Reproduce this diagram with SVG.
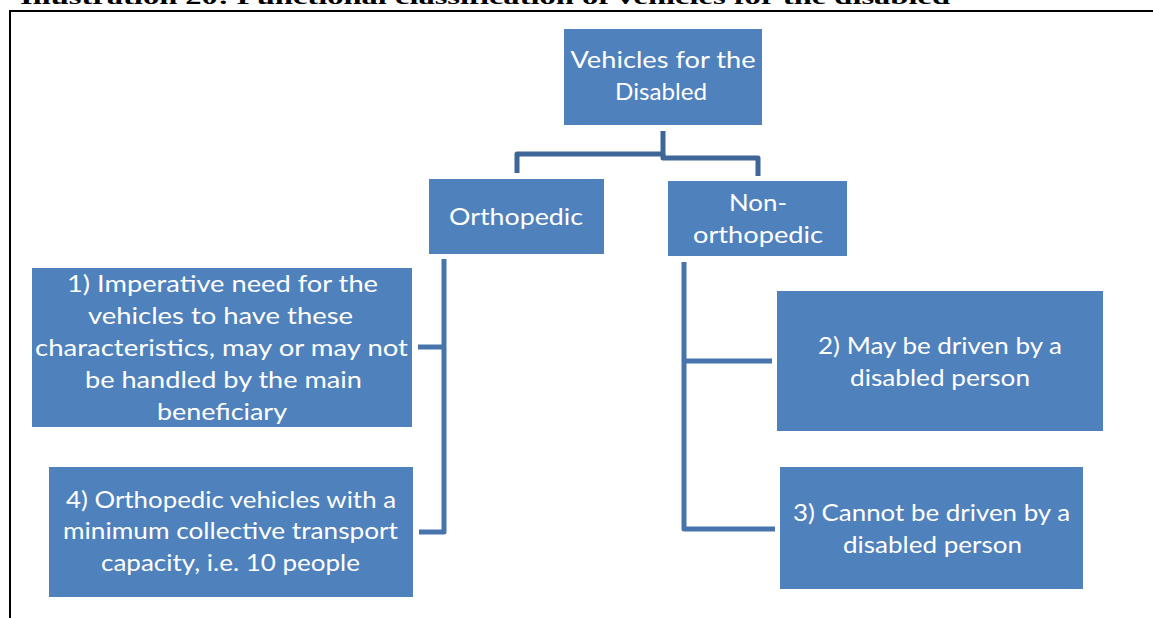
<svg xmlns="http://www.w3.org/2000/svg" width="1153" height="618" viewBox="0 0 1153 618">
<style>
.box{fill:#4f81bd;}
.lbl{font-family:Lato,"Open Sans","Liberation Sans",sans-serif;font-size:24px;fill:#ffffff;text-anchor:middle;}
.conn{fill:none;stroke-width:5;stroke-linejoin:round;}
.c1{stroke:#3e6797;}
.c2{stroke:#4674ab;}
</style>
<rect x="0" y="0" width="1153" height="618" fill="#ffffff"/>
<text x="20" y="4" font-family="'Liberation Serif',serif" font-weight="bold" font-size="22" textLength="930" lengthAdjust="spacingAndGlyphs" fill="#000">Illustration 20: Functional classification of vehicles for the disabled</text>
<path d="M10,618 V11 H1153" fill="none" stroke="#000" stroke-width="2"/>
<g id="connectors">
<path class="conn c1" d="M663,131 V154 H517 V173"/>
<path class="conn c1" d="M663,154 V158 H758 V176"/>
<path class="conn c2" d="M444,259 V532 H419"/>
<path class="conn c2" d="M444,347 H418"/>
<path class="conn c2" d="M684,262 V529 H775"/>
<path class="conn c2" d="M684,361 H772"/>
</g>
<g id="root">
<rect class="box" x="564" y="29" width="198" height="96"/>
<text class="lbl" x="663" y="68" textLength="185" lengthAdjust="spacingAndGlyphs">Vehicles for the</text>
<text class="lbl" x="661" y="100" textLength="92" lengthAdjust="spacingAndGlyphs">Disabled</text>
</g>
<g id="orthopedic">
<rect class="box" x="429" y="179" width="175" height="75"/>
<text class="lbl" x="516" y="225" textLength="134" lengthAdjust="spacingAndGlyphs">Orthopedic</text>
</g>
<g id="non-orthopedic">
<rect class="box" x="668" y="181" width="179" height="75"/>
<text class="lbl" x="758" y="211" textLength="58" lengthAdjust="spacingAndGlyphs">Non-</text>
<text class="lbl" x="758" y="243" textLength="130" lengthAdjust="spacingAndGlyphs">orthopedic</text>
</g>
<g id="node1">
<rect class="box" x="32" y="268" width="380" height="159"/>
<text class="lbl" x="222.5" y="292" textLength="311" lengthAdjust="spacingAndGlyphs">1) Imperative need for the</text>
<text class="lbl" x="220.5" y="324" textLength="265" lengthAdjust="spacingAndGlyphs">vehicles to have these</text>
<text class="lbl" x="221.5" y="356" textLength="373" lengthAdjust="spacingAndGlyphs">characteristics, may or may not</text>
<text class="lbl" x="223.5" y="388" textLength="277" lengthAdjust="spacingAndGlyphs">be handled by the main</text>
<text class="lbl" x="222" y="420" textLength="130" lengthAdjust="spacingAndGlyphs">beneficiary</text>
</g>
<g id="node4">
<rect class="box" x="49" y="467" width="364" height="130"/>
<text class="lbl" x="231" y="508" textLength="330" lengthAdjust="spacingAndGlyphs">4) Orthopedic vehicles with a</text>
<text class="lbl" x="230.5" y="539" textLength="335" lengthAdjust="spacingAndGlyphs">minimum collective transport</text>
<text class="lbl" x="230.5" y="571" textLength="259" lengthAdjust="spacingAndGlyphs">capacity, i.e. 10 people</text>
</g>
<g id="node2">
<rect class="box" x="777" y="291" width="326" height="140"/>
<text class="lbl" x="940" y="354" textLength="244" lengthAdjust="spacingAndGlyphs">2) May be driven by a</text>
<text class="lbl" x="940" y="386" textLength="180" lengthAdjust="spacingAndGlyphs">disabled person</text>
</g>
<g id="node3">
<rect class="box" x="780" y="467" width="303" height="122"/>
<text class="lbl" x="931.5" y="521" textLength="277" lengthAdjust="spacingAndGlyphs">3) Cannot be driven by a</text>
<text class="lbl" x="932.5" y="553" textLength="179" lengthAdjust="spacingAndGlyphs">disabled person</text>
</g>
</svg>
